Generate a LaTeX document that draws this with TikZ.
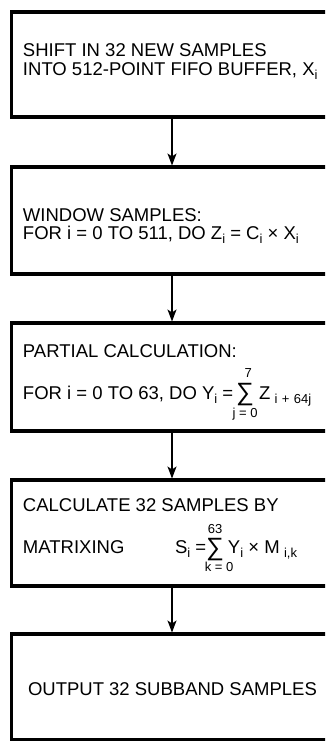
\documentclass[tikz,border=0pt]{standalone}
\usepackage{fontspec}
\setmainfont{Liberation Sans}
\usetikzlibrary{arrows.meta}
\newcommand\sbs[1]{\raisebox{-4pt}{\fontsize{13}{13}\selectfont #1}}
\tikzset{
 box/.style={draw, line width=3.2pt, rectangle, inner sep=0pt, outer sep=0pt, anchor=north west, minimum width=334pt},
 txt/.style={anchor=base west, inner sep=0pt, outer sep=0pt, font=\fontsize{18.5}{18.5}\selectfont},
 sigma/.style={anchor=base west, inner sep=0pt, outer sep=0pt, font=\fontsize{25}{25}\selectfont},
 lim/.style={anchor=base, inner sep=0pt, outer sep=0pt, font=\fontsize{13}{13}\selectfont},
 arr/.style={line width=1.3pt, -{Stealth[length=12pt,width=9pt,inset=3pt]}, shorten >=1.5pt}
}
\begin{document}
\begin{tikzpicture}[x=1pt,y=-1pt]
\useasboundingbox (0,0) rectangle (325,741);
\clip (0,0) rectangle (325,741);
\node[box, minimum height=105pt] (b1) at (11.5,12) {};
\node[box, minimum height=107pt] (b2) at (11.5,167) {};
\node[box, minimum height=108pt] (b3) at (11.5,323) {};
\node[box, minimum height=106pt] (b4) at (11.5,480) {};
\node[box, minimum height=105.5pt] (b5) at (11.5,634) {};
\coordinate (ax) at (172,0);
\draw[arr] (b1.south -| ax) -- (b2.north -| ax);
\draw[arr] (b2.south -| ax) -- (b3.north -| ax);
\draw[arr] (b3.south -| ax) -- (b4.north -| ax);
\draw[arr] (b4.south -| ax) -- (b5.north -| ax);
% box 1
\node[txt] (t1a) at (23,57) {SHIFT IN 32 NEW SAMPLES};
\node[txt] (t1b) at (23,76) {INTO 512-POINT FIFO BUFFER, X\sbs{i}};
% box 2
\node[txt] (t2a) at (23,221) {WINDOW SAMPLES:};
\node[txt] (t2b) at (23,239) {FOR i = 0 TO 511, DO Z\sbs{i} = C\sbs{i} × X\sbs{i}};
% box 3
\node[txt] (t3a) at (23,357) {PARTIAL CALCULATION:};
\node[txt] (t3b) at (23,399) {FOR i = 0 TO 63, DO Y\sbs{i} =};
\node[sigma] (s3) at ([xshift=3pt,yshift=-1pt]t3b.base east) {∑};
\node[lim] (s3up) at ([xshift=3pt,yshift=23pt]s3.base) {7};
\node[lim] (s3lo) at ([yshift=-17pt]s3.base) {j = 0};
\node[txt] (t3c) at ([xshift=5pt,yshift=1pt]s3.base east) {Z\sbs{\,\,i\,\,+\,\,64j}};
% box 4
\node[txt] (t4a) at (23,511) {CALCULATE 32 SAMPLES BY};
\node[txt] (t4b) at (23,553) {MATRIXING};
\node[txt] (t4c) at (175,553) {S\sbs{i} =};
\node[sigma] (s4) at ([xshift=0pt,yshift=-2pt]t4c.base east) {∑};
\node[lim] (s4up) at ([yshift=22pt]s4.base) {63};
\node[lim] (s4lo) at ([xshift=4pt,yshift=-16pt]s4.base) {k = 0};
\node[txt] (t4d) at ([xshift=4pt,yshift=2pt]s4.base east) {Y\sbs{i} × M\sbs{\,\,i,k}};
% box 5
\node[txt] (t5) at (28,695) {OUTPUT 32 SUBBAND SAMPLES};
\end{tikzpicture}
\end{document}
